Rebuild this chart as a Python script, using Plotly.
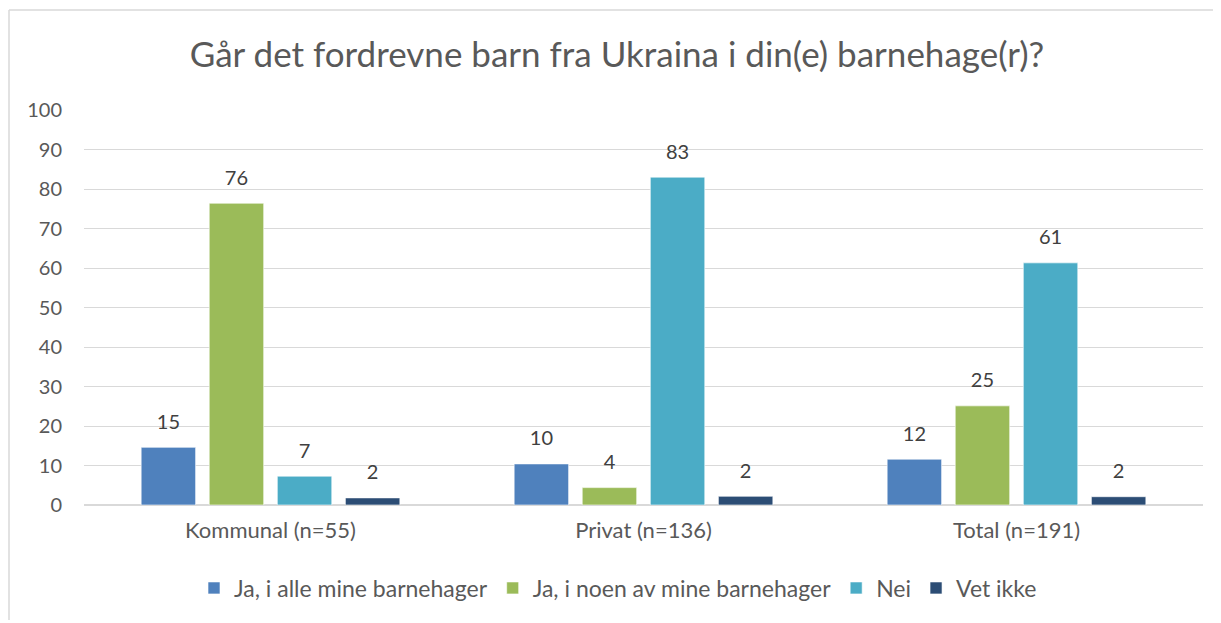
import plotly.graph_objects as go

categories = ["Kommunal (n=55)", "Privat (n=136)", "Total (n=191)"]
series_names = ["Ja, i alle mine barnehager", "Ja, i noen av mine barnehager", "Nei", "Vet ikke"]
ja_alle = [14.6, 10.4, 11.6]
ja_noen = [76.4, 4.4, 25.1]
nei = [7.3, 83.0, 61.3]
vet_ikke = [1.8, 2.2, 2.1]
labels_ja_alle = ["15", "10", "12"]
labels_ja_noen = ["76", "4", "25"]
labels_nei = ["7", "83", "61"]
labels_vet_ikke = ["2", "2", "2"]
y_ticks = [0, 10, 20, 30, 40, 50, 60, 70, 80, 90, 100]

colors = ["#4F81BD", "#9BBB59", "#4BACC6", "#2C4D75"]
values = [ja_alle, ja_noen, nei, vet_ikke]
labels = [labels_ja_alle, labels_ja_noen, labels_nei, labels_vet_ikke]

FONT = "Lato, Carlito, Calibri, sans-serif"

# page has an 8px body margin; figure is laid out in its own pixel space
W, H = 1210, 612
L, R, T, B = 76, 15, 102, 115
PW, PH = W - L - R, H - T - B


def px(x):
    return (x - L) / PW


def py(y):
    return (H - B - y) / PH


fig = go.Figure()
for i, (name, vals, col) in enumerate(zip(series_names, values, colors)):
    fig.add_trace(go.Bar(
        name=name, x=categories, y=vals, offsetgroup=str(i),
        marker=dict(color=col, line=dict(color="rgba(255,255,255,0.6)", width=1)),
        hoverinfo="skip",
    ))
for i, (vals, lab) in enumerate(zip(values, labels)):
    fig.add_trace(go.Scatter(
        x=categories, y=vals, text=lab, mode="markers+text", offsetgroup=str(i),
        textposition="top center", cliponaxis=False, showlegend=False,
        marker=dict(size=20, opacity=0),
        textfont=dict(family=FONT, size=20, color="#404040"),
        hoverinfo="skip",
    ))

# chart border (light grey frame)
fig.add_shape(type="line", xref="paper", yref="paper", x0=px(1), x1=px(W), y0=py(2), y1=py(2),
              line=dict(color="#D9D9D9", width=1.5))
fig.add_shape(type="line", xref="paper", yref="paper", x0=px(1), x1=px(1), y0=py(2), y1=py(H),
              line=dict(color="#D9D9D9", width=1.5))

fig.update_layout(
    width=W, height=H,
    margin=dict(l=L, r=R, t=T, b=B, autoexpand=False),
    paper_bgcolor="white", plot_bgcolor="white",
    barmode="group", bargap=0.27, bargroupgap=0.2,
    scattermode="group", scattergap=0.27,
    title=dict(text="Går det fordrevne barn fra Ukraina i din(e) barnehage(r)?",
               x=(617 - 8) / W, xref="container", xanchor="center", y=1 - 47 / H, yanchor="middle",
               font=dict(family=FONT, size=35, color="#595959")),
    font=dict(family=FONT, color="#595959"),
    legend=dict(orientation="h", x=px(610), xanchor="center",
                y=py(580), yanchor="middle",
                font=dict(family=FONT, size=23, color="#595959"),
                itemwidth=30),
    showlegend=True,
)
fig.update_yaxes(range=[0, 100], tickvals=y_ticks, showgrid=True, gridcolor="#D9D9D9",
                 gridwidth=1, zeroline=True, zerolinecolor="#D9D9D9", showline=False,
                 tickfont=dict(family=FONT, size=20, color="#595959"),
                 ticklabelstandoff=21, fixedrange=True, automargin=False)
fig.update_xaxes(showline=False, tickfont=dict(family=FONT, size=22, color="#595959"),
                 ticklabelstandoff=10, tickangle=0, fixedrange=True, automargin=False)

fig.write_html("out.html")
